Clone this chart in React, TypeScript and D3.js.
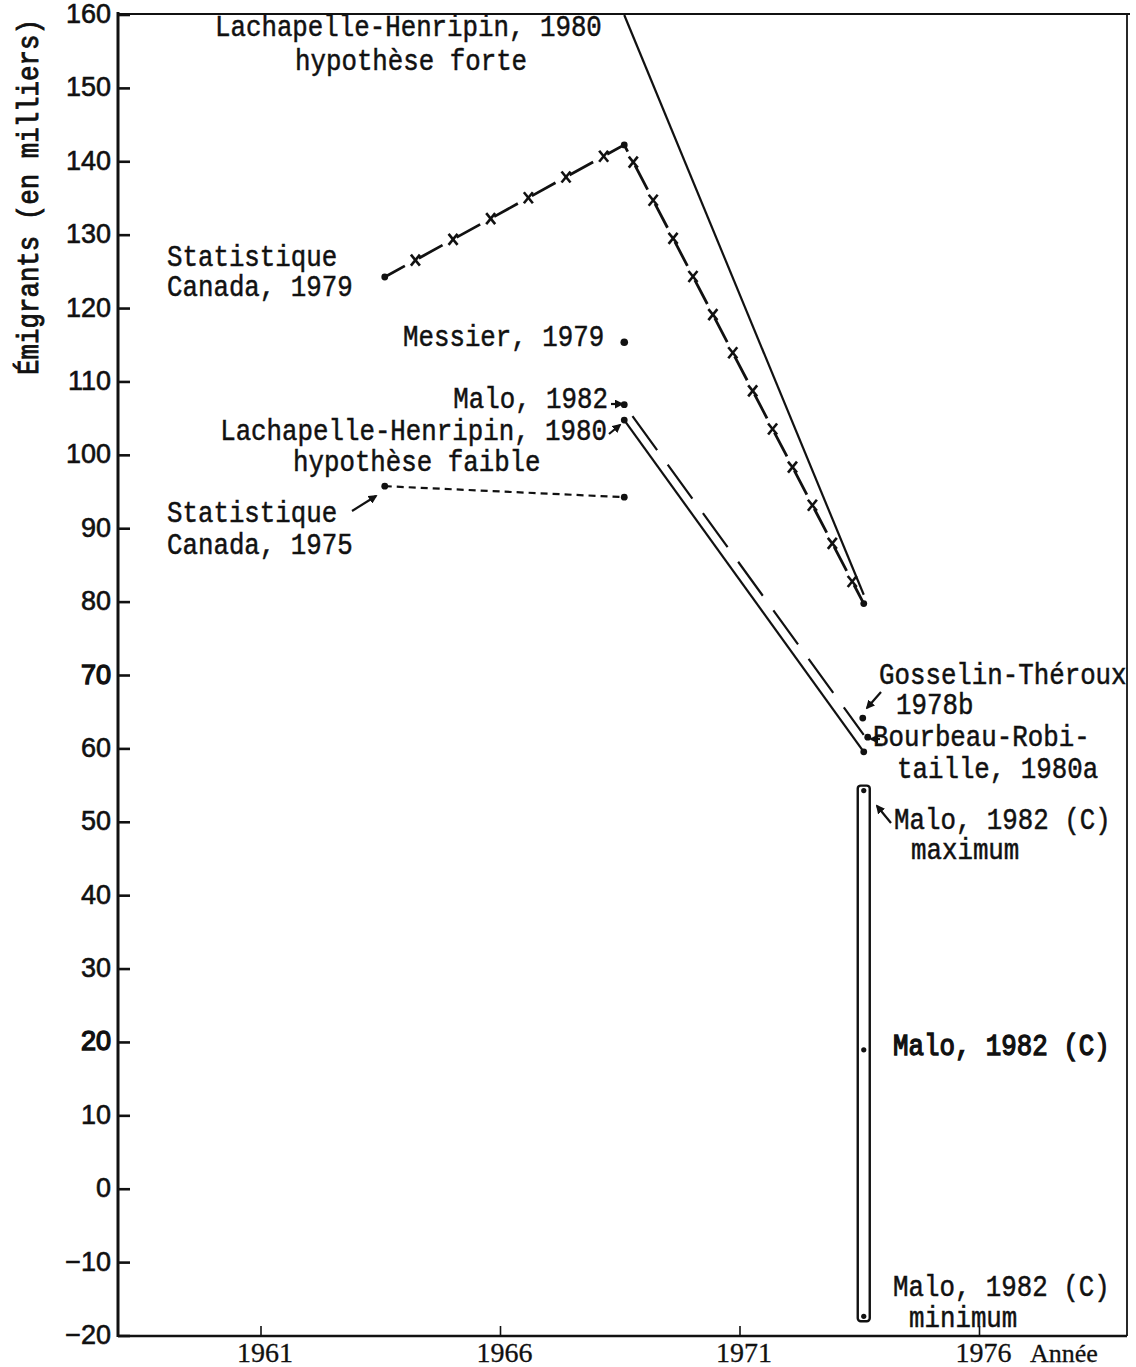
import React from "react";
import * as d3 from "d3";

// périodes quinquennales (points au milieu de chaque période)
const periodYears = [1963.5, 1968.5, 1973.5];
const statCan1979 = [124.3, 142.3, 79.8];
const statCan1975 = [95.8, 94.3]; // périodes 1 et 2
const lhForte = [160, 81]; // périodes 2 et 3
const lhFaible = [104.8, 59.6]; // périodes 2 et 3
const malo1982 = [106.9, 61.9]; // périodes 2 et 3
const messier1979 = [115.4]; // période 2
const gosselinTheroux = [64.2]; // période 3
const bourbeauRobitaille = [61.6]; // période 3
const maloC = [-18, 19, 55]; // min, central, max (période 3)

const yTickValues = [-20, -10, 0, 10, 20, 30, 40, 50, 60, 70, 80, 90, 100, 110, 120, 130, 140, 150, 160];
const xTickYears = [1961, 1966, 1971, 1976];

const W = 1136;
const H = 1367;
const frame = { left: 118, right: 1127, top: 14, bottom: 1336 };

const x = d3.scaleLinear().domain([1961, 1976]).range([265, 983.5]);
const y = d3.scaleLinear().domain([-20, 160]).range([1336, 15]);

const ink = "#111";
const mono = "'Liberation Mono', 'DejaVu Sans Mono', monospace";

function TW({ x, y, anchor = "start", children, heavy = false }: any) {
  return (
    <text
      transform={`translate(${x},${y}) scale(1,1.12)`}
      textAnchor={anchor}
      fontFamily={mono}
      fontSize={25.8}
      fill={ink}
      stroke={ink}
      strokeWidth={heavy ? 1.2 : 0.45}
    >
      {children}
    </text>
  );
}

function Arrow({ x1, y1, x2, y2 }: any) {
  return <line x1={x1} y1={y1} x2={x2} y2={y2} stroke={ink} strokeWidth={2.2} markerEnd="url(#ah)" />;
}

function Dot({ cx, cy, r = 3.4 }: any) {
  return <circle cx={cx} cy={cy} r={r} fill={ink} />;
}

// points along a polyline, every `step` px starting at `start`
function pointsAlong(pts: [number, number][], start: number, step: number) {
  const out: [number, number][] = [];
  let s = start;
  let acc = 0;
  for (let i = 0; i < pts.length - 1; i++) {
    const [x0, y0] = pts[i];
    const [x1, y1] = pts[i + 1];
    const len = Math.hypot(x1 - x0, y1 - y0);
    while (s <= acc + len) {
      const t = (s - acc) / len;
      out.push([x0 + (x1 - x0) * t, y0 + (y1 - y0) * t]);
      s += step;
    }
    acc += len;
  }
  return out;
}

export default function App() {
  const line = d3.line<[number, number]>().x((d) => x(d[0])).y((d) => y(d[1]));

  const sc79: [number, number][] = periodYears.map((yr, i) => [yr, statCan1979[i]]);
  const sc75: [number, number][] = statCan1975.map((v, i) => [periodYears[i], v]);
  const forte: [number, number][] = lhForte.map((v, i) => [periodYears[i + 1], v]);
  const faible: [number, number][] = lhFaible.map((v, i) => [periodYears[i + 1], v]);
  const malo: [number, number][] = malo1982.map((v, i) => [periodYears[i + 1], v]);

  const sc79px = sc79.map((d) => [x(d[0]), y(d[1])] as [number, number]);
  const crosses = pointsAlong(sc79px, 35, 43);

  const cx3 = x(periodYears[2]);
  const cx2 = x(periodYears[1]);

  return (
    <svg width={W} height={H} style={{ position: "absolute", left: 0, top: 0, background: "#fff" }}>
      <defs>
        <marker id="ah" viewBox="0 0 10 10" refX="8" refY="5" markerWidth="9" markerHeight="9" markerUnits="userSpaceOnUse" orient="auto">
          <path d="M0,0 L10,5 L0,10 z" fill={ink} />
        </marker>
      </defs>

      {/* cadre */}
      <line x1={frame.left} y1={frame.top} x2={frame.right + 3} y2={frame.top} stroke={ink} strokeWidth={2.2} />
      <line x1={frame.right} y1={frame.top} x2={frame.right} y2={frame.bottom} stroke={ink} strokeWidth={1.8} />
      <line x1={frame.left} y1={frame.bottom} x2={frame.right} y2={frame.bottom} stroke={ink} strokeWidth={2.4} />
      <line x1={frame.left} y1={frame.top - 2} x2={frame.left} y2={frame.bottom + 1} stroke={ink} strokeWidth={3} />

      {/* axe Y */}
      {yTickValues.map((v) => (
        <g key={v}>
          <line x1={frame.left} x2={frame.left + 12} y1={y(v)} y2={y(v)} stroke={ink} strokeWidth={2.6} />
          <text
            x={111}
            y={y(v) + 8}
            textAnchor="end"
            fontFamily="'Liberation Sans', Arial, sans-serif"
            fontSize={27}
            fill={ink}
            stroke={ink}
            strokeWidth={v === 70 || v === 20 ? 1.4 : 0.6}
          >
            {v < 0 ? "\u2212" + Math.abs(v) : v}
          </text>
        </g>
      ))}
      <text
        transform="translate(38,197) rotate(-90) scale(1,1.12)"
        textAnchor="middle"
        fontFamily={mono}
        fontSize={25.8}
        fill={ink}
        stroke={ink}
        strokeWidth={0.8}
      >
        Émigrants (en milliers)
      </text>

      {/* axe X */}
      {xTickYears.map((yr) => (
        <g key={yr}>
          <line x1={x(yr) - 4} x2={x(yr) - 4} y1={frame.bottom} y2={frame.bottom - 10} stroke={ink} strokeWidth={1.6} />
          <text x={x(yr)} y={1362} textAnchor="middle" fontFamily="'Liberation Serif', 'Times New Roman', serif" fontSize={28} fill={ink} stroke={ink} strokeWidth={0.3}>
            {yr}
          </text>
        </g>
      ))}
      <text x={1030} y={1362} fontFamily="'Liberation Serif', 'Times New Roman', serif" fontSize={26} fill={ink} stroke={ink} strokeWidth={0.3}>
        Année
      </text>

      {/* Lachapelle-Henripin, hypothèse forte */}
      <path d={line(forte) || ""} fill="none" stroke={ink} strokeWidth={2.2} />

      {/* Statistique Canada, 1979 */}
      <path d={line(sc79) || ""} fill="none" stroke={ink} strokeWidth={2.8} strokeDasharray="27 16" strokeDashoffset={4} />
      {crosses.map(([px, py], i) => (
        <g key={i} stroke={ink} strokeWidth={2.6}>
          <line x1={px - 4.5} y1={py - 5.5} x2={px + 4.5} y2={py + 5.5} />
          <line x1={px + 4.5} y1={py - 5.5} x2={px - 4.5} y2={py + 5.5} />
        </g>
      ))}
      {sc79.map((d, i) => (
        <Dot key={i} cx={x(d[0])} cy={y(d[1])} />
      ))}

      {/* Statistique Canada, 1975 */}
      <path d={line(sc75) || ""} fill="none" stroke={ink} strokeWidth={2.2} strokeDasharray="7 5" />
      {sc75.map((d, i) => (
        <Dot key={i} cx={x(d[0])} cy={y(d[1])} />
      ))}

      {/* Malo, 1982 */}
      <path d={line(malo) || ""} fill="none" stroke={ink} strokeWidth={2.2} strokeDasharray="42 18" strokeDashoffset={-14} />
      <Dot cx={x(malo[0][0])} cy={y(malo[0][1])} />

      {/* Lachapelle-Henripin, hypothèse faible */}
      <path d={line(faible) || ""} fill="none" stroke={ink} strokeWidth={2.2} />
      {faible.map((d, i) => (
        <Dot key={i} cx={x(d[0])} cy={y(d[1])} />
      ))}

      {/* points isolés */}
      <Dot cx={cx2} cy={y(messier1979[0])} r={3.8} />
      <Dot cx={cx3 - 1} cy={y(gosselinTheroux[0])} />
      <Dot cx={cx3 + 4} cy={y(bourbeauRobitaille[0])} />

      {/* Malo, 1982 (C) : intervalle */}
      <rect
        x={cx3 - 6}
        y={y(maloC[2])}
        width={12}
        height={y(maloC[0]) - y(maloC[2])}
        rx={3}
        fill="#fff"
        stroke={ink}
        strokeWidth={2.4}
      />
      <circle cx={cx3} cy={y(maloC[2]) + 5} r={2.6} fill={ink} />
      <circle cx={cx3} cy={y(maloC[0]) - 5} r={2.6} fill={ink} />
      <circle cx={cx3} cy={y(maloC[1])} r={2.6} fill={ink} />

      {/* étiquettes */}
      <TW x={215} y={36}>Lachapelle-Henripin, 1980</TW>
      <TW x={295} y={70}>hypothèse forte</TW>

      <TW x={167} y={266}>Statistique</TW>
      <TW x={167} y={296}>Canada, 1979</TW>

      <TW x={403} y={346}>Messier, 1979</TW>

      <TW x={608} y={408} anchor="end">Malo, 1982</TW>
      <Arrow x1={611} y1={404} x2={622} y2={404} />
      <TW x={607} y={440} anchor="end">Lachapelle-Henripin, 1980</TW>
      <Arrow x1={609} y1={434} x2={620} y2={425} />
      <TW x={293} y={471}>hypothèse faible</TW>

      <TW x={167} y={522}>Statistique</TW>
      <TW x={167} y={554}>Canada, 1975</TW>
      <Arrow x1={352} y1={511} x2={376} y2={496} />

      <TW x={879} y={684}>Gosselin-Théroux</TW>
      <TW x={896} y={714}>1978b</TW>
      <Arrow x1={881} y1={692} x2={867} y2={708} />

      <TW x={873} y={746}>Bourbeau-Robi-</TW>
      <TW x={897} y={778}>taille, 1980a</TW>
      <Arrow x1={880} y1={739} x2={871} y2={739} />

      <TW x={894} y={829}>Malo, 1982 (C)</TW>
      <TW x={911} y={859}>maximum</TW>
      <Arrow x1={891} y1={823} x2={877} y2={806} />

      <TW x={893} y={1055} heavy>Malo, 1982 (C)</TW>

      <TW x={893} y={1296}>Malo, 1982 (C)</TW>
      <TW x={909} y={1327}>minimum</TW>
    </svg>
  );
}
